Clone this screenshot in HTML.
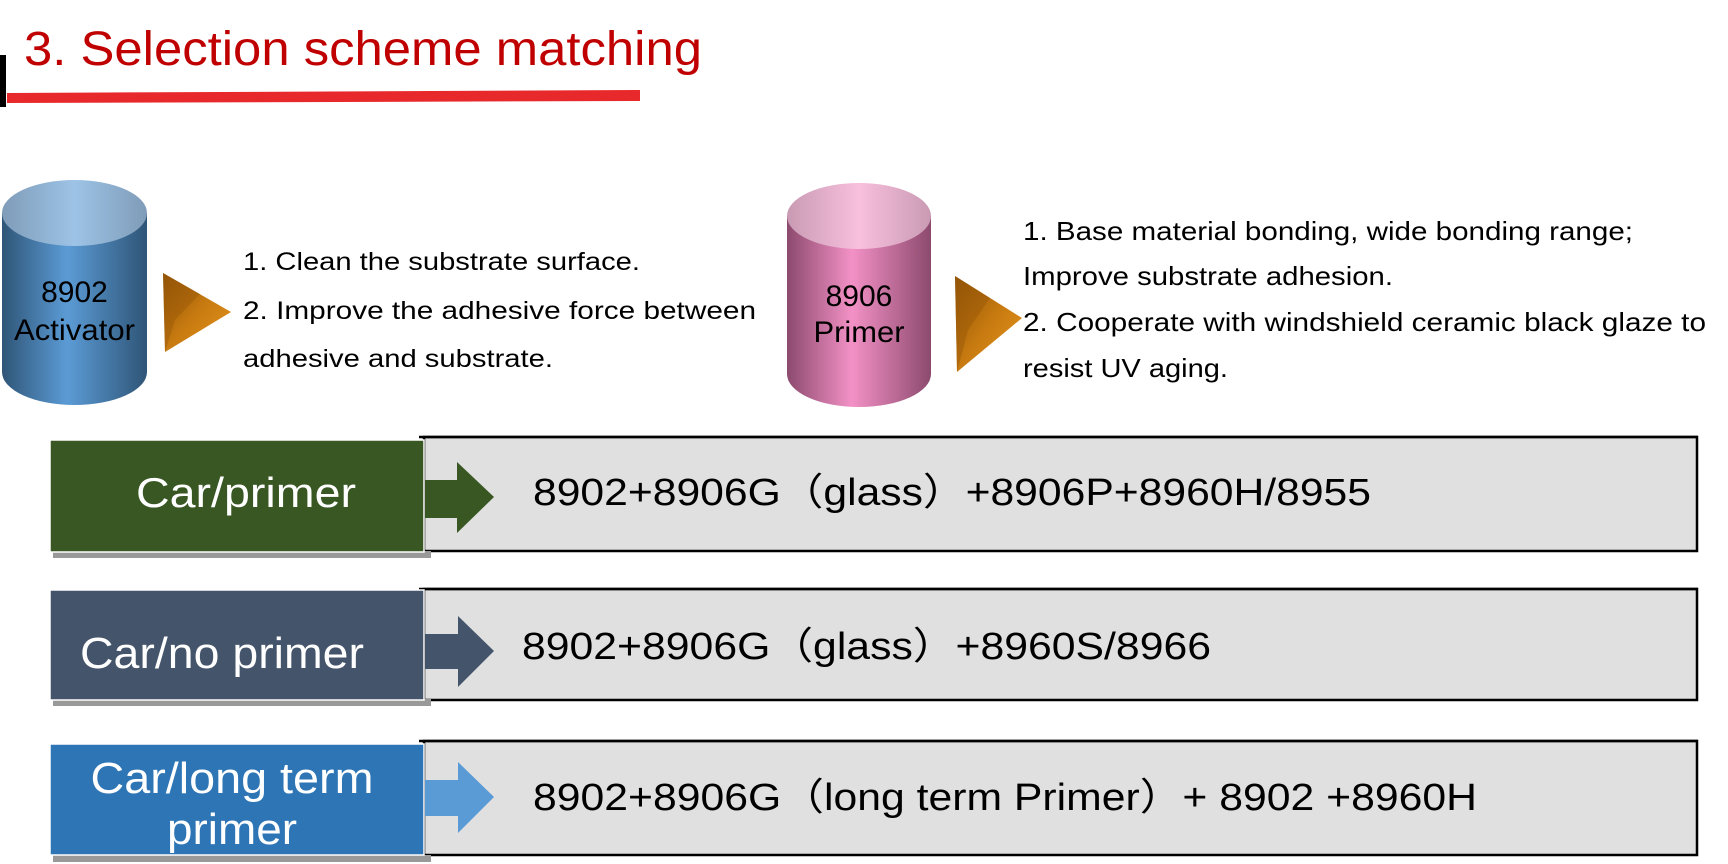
<!DOCTYPE html>
<html><head><meta charset="utf-8"><style>
html,body{margin:0;padding:0;background:#fff;}
svg{display:block;}
text{font-family:"Liberation Sans","Noto Sans CJK SC",sans-serif;}
</style></head><body>
<svg width="1728" height="864" viewBox="0 0 1728 864" xmlns="http://www.w3.org/2000/svg">
<defs>
<linearGradient id="b" x1="0" x2="1" y1="0" y2="0">
<stop offset="0" stop-color="#2f5577"/><stop offset="0.45" stop-color="#5b9bd5"/><stop offset="1" stop-color="#2f5577"/></linearGradient>
<linearGradient id="bt" x1="0" x2="1"><stop offset="0" stop-color="#7f9cb8"/><stop offset="0.5" stop-color="#9dc3e6"/><stop offset="1" stop-color="#7f9cb8"/></linearGradient>
<linearGradient id="p" x1="0" x2="1" y1="0" y2="0">
<stop offset="0" stop-color="#8c4a6e"/><stop offset="0.45" stop-color="#f391c6"/><stop offset="1" stop-color="#8c4a6e"/></linearGradient>
<linearGradient id="pt" x1="0" x2="1"><stop offset="0" stop-color="#c99ab3"/><stop offset="0.5" stop-color="#f8c0dd"/><stop offset="1" stop-color="#c99ab3"/></linearGradient>
<linearGradient id="o" x1="0" x2="1" y1="0" y2="1"><stop offset="0" stop-color="#8a4f06"/><stop offset="0.5" stop-color="#c77a10"/><stop offset="1" stop-color="#e7961e"/></linearGradient>
</defs>

<!-- title -->
<rect x="0" y="55" width="6" height="52" fill="#000"/>
<polygon points="7,93 640,90 640,101 7,103" fill="#e8292c"/>
<text x="24" y="65" font-size="48" fill="#c00000" textLength="678" lengthAdjust="spacingAndGlyphs">3. Selection scheme matching</text>

<!-- cylinder 1 -->
<path d="M2,213 L2,372 A72.5,33 0 0 0 147,372 L147,213 Z" fill="url(#b)"/>
<ellipse cx="74.5" cy="213" rx="72.5" ry="33" fill="url(#bt)"/>
<text x="74.5" y="302" font-size="30" text-anchor="middle" fill="#000">8902</text>
<text x="74.5" y="340" font-size="30" text-anchor="middle" fill="#000" textLength="121" lengthAdjust="spacingAndGlyphs">Activator</text>
<polygon points="163,273 231,312 165,352" fill="url(#o)"/>
<polygon points="163,273 200,294 175,320 165,352" fill="#9c5a08" opacity="0.5"/>
<text font-size="25" fill="#000">
<tspan x="243" y="270" textLength="397" lengthAdjust="spacingAndGlyphs">1. Clean the substrate surface.</tspan>
<tspan x="243" y="319" textLength="513" lengthAdjust="spacingAndGlyphs">2. Improve the adhesive force between</tspan>
<tspan x="243" y="367" textLength="310" lengthAdjust="spacingAndGlyphs">adhesive and substrate.</tspan>
</text>

<!-- cylinder 2 -->
<path d="M787,216 L787,374 A72,33 0 0 0 931,374 L931,216 Z" fill="url(#p)"/>
<ellipse cx="859" cy="216" rx="72" ry="33" fill="url(#pt)"/>
<text x="859" y="306" font-size="30" text-anchor="middle" fill="#000">8906</text>
<text x="859" y="342" font-size="30" text-anchor="middle" fill="#000" textLength="91" lengthAdjust="spacingAndGlyphs">Primer</text>
<polygon points="955,276 1022,318 957,372" fill="url(#o)"/>
<polygon points="955,276 990,298 968,330 957,372" fill="#9c5a08" opacity="0.5"/>
<text font-size="26" fill="#000">
<tspan x="1023" y="240" textLength="610" lengthAdjust="spacingAndGlyphs">1. Base material bonding, wide bonding range;</tspan>
<tspan x="1023" y="285" textLength="370" lengthAdjust="spacingAndGlyphs">Improve substrate adhesion.</tspan>
<tspan x="1023" y="331" textLength="683" lengthAdjust="spacingAndGlyphs">2. Cooperate with windshield ceramic black glaze to</tspan>
<tspan x="1023" y="377" textLength="205" lengthAdjust="spacingAndGlyphs">resist UV aging.</tspan>
</text>

<!-- row 1 -->
<rect x="424" y="437" width="1273" height="114" fill="#e0e0e0" stroke="#000" stroke-width="2.5"/>
<line x1="419" y1="437" x2="1698" y2="437" stroke="#000" stroke-width="2.5"/>
<rect x="53" y="551" width="378" height="7" fill="#999"/>
<rect x="50" y="440" width="374" height="112" fill="#385723" stroke="#fff" stroke-width="1.5"/>
<polygon points="425,480 457,480 457,462 494,497 457,533 457,518 425,518" fill="#385723"/>
<text x="246" y="507" font-size="42" fill="#fff" text-anchor="middle" textLength="220" lengthAdjust="spacingAndGlyphs">Car/primer</text>
<text x="533" y="505" font-size="38" fill="#000" textLength="838" lengthAdjust="spacingAndGlyphs">8902+8906G（glass）+8906P+8960H/8955</text>

<!-- row 2 -->
<rect x="424" y="589" width="1273" height="111" fill="#e0e0e0" stroke="#000" stroke-width="2.5"/>
<line x1="419" y1="589" x2="1698" y2="589" stroke="#000" stroke-width="2.5"/>
<rect x="53" y="699" width="378" height="7" fill="#999"/>
<rect x="50" y="590" width="374" height="110" fill="#44546a" stroke="#fff" stroke-width="1.5"/>
<polygon points="425,634 458,634 458,616 494,651 458,687 458,669 425,669" fill="#44546a"/>
<text x="80" y="668" font-size="44" fill="#fff" textLength="284" lengthAdjust="spacingAndGlyphs">Car/no primer</text>
<text x="522" y="659" font-size="38" fill="#000" textLength="689" lengthAdjust="spacingAndGlyphs">8902+8906G（glass）+8960S/8966</text>

<!-- row 3 -->
<rect x="424" y="741" width="1273" height="114" fill="#e0e0e0" stroke="#000" stroke-width="2.5"/>
<line x1="419" y1="741" x2="1698" y2="741" stroke="#000" stroke-width="2.5"/>
<rect x="53" y="855" width="378" height="7" fill="#999"/>
<rect x="50" y="744" width="374" height="111" fill="#2e75b6" stroke="#fff" stroke-width="1.5"/>
<polygon points="425,780 458,780 458,762 494,797 458,833 458,816 425,816" fill="#5b9bd5"/>
<text x="232" y="793" font-size="44" fill="#fff" text-anchor="middle" textLength="283" lengthAdjust="spacingAndGlyphs">Car/long term</text>
<text x="232" y="844" font-size="44" fill="#fff" text-anchor="middle" textLength="130" lengthAdjust="spacingAndGlyphs">primer</text>
<text x="533" y="810" font-size="38" fill="#000" textLength="944" lengthAdjust="spacingAndGlyphs">8902+8906G（long term Primer）+ 8902 +8960H</text>
</svg>
</body></html>
